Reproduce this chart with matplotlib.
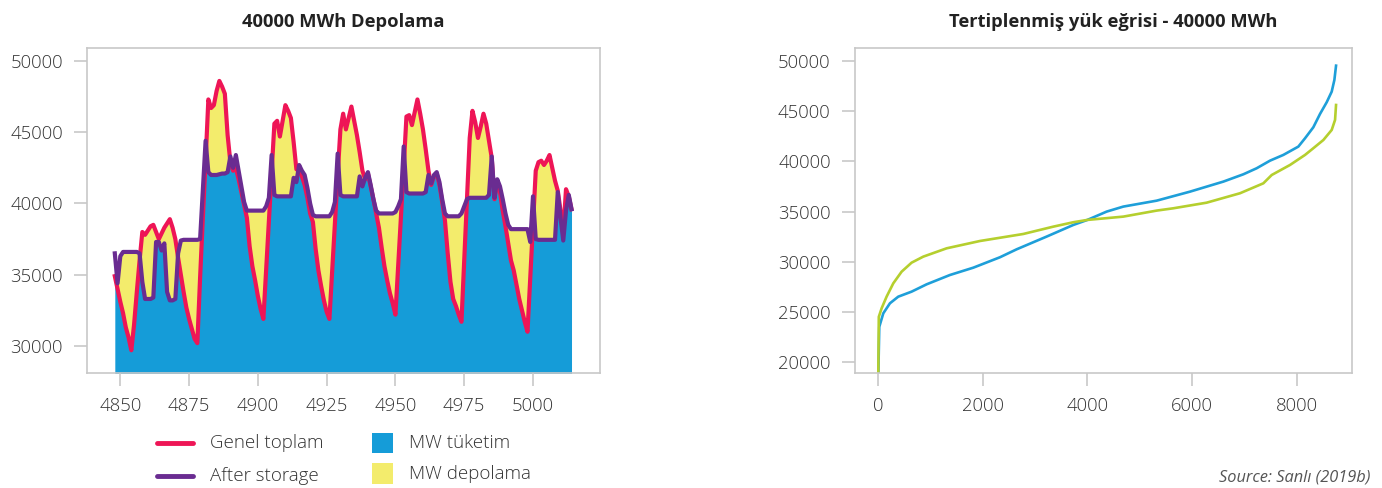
import numpy as np
import matplotlib.pyplot as plt
from matplotlib.lines import Line2D
from matplotlib.patches import Rectangle

plt.rcParams['font.family'] = ['Open Sans', 'DejaVu Sans']

# --- left chart: hourly load, before / after storage ---
hours = np.arange(4848, 5015)

genel_toplam = [
    34900, 34000, 33100, 32300, 31300, 30600, 29700, 31500, 33800, 36000,
    38000, 37800, 38100, 38400, 38500, 38000, 37500, 37900, 38300, 38600,
    38900, 38300, 37500, 36200, 35000, 33800, 32700, 31900, 31200, 30500,
    30200, 34800, 39000, 43000, 47300, 46700, 46900, 47900, 48600, 48200,
    47700, 44800, 42900, 42300, 42500, 41700, 40800, 39900, 39000, 37000,
    35600, 34600, 33500, 32600, 31900, 35300, 38700, 42200, 45600, 45800,
    44700, 45800, 46900, 46500, 46000, 44300, 42400, 42300, 41900, 41300,
    40400, 39300, 38700, 36800, 35300, 34200, 33200, 32400, 31900, 35200,
    38600, 42000, 45200, 46300, 45200, 46000, 46800, 45800, 44800, 43600,
    42300, 41700, 42100, 41200, 40300, 39300, 38300, 36900, 35600, 34600,
    33700, 33000, 32200, 35600, 39000, 42500, 46100, 46200, 45500, 46400,
    47300, 46300, 45200, 43800, 42300, 41300, 41900, 42100, 41300, 40100,
    38800, 36500, 34500, 33300, 32800, 32200, 31700, 36000, 40300, 44600,
    46500, 45700, 44600, 45400, 46300, 45600, 44400, 43200, 40300, 41600,
    40800, 39500, 38400, 37200, 36000, 35300, 34300, 33300, 32500, 31700,
    31000, 34800, 38600, 42300, 42900, 43000, 42700, 43000, 43400, 42500,
    41600, 40900, 39500, 38000, 41000, 40500, 39600,
]

after_storage = [
    36500, 34400, 36300, 36600, 36600, 36600, 36600, 36600, 36600, 36500,
    34500, 33300, 33300, 33300, 33400, 37300, 37300, 36700, 37200, 33800,
    33200, 33200, 33300, 36500, 37400, 37450, 37450, 37450, 37450, 37450,
    37450, 37500, 41000, 44400, 42200, 42000, 42000, 42000, 42050, 42100,
    42100, 42200, 43300, 42500, 43400, 42300, 41200, 40100, 39500, 39500,
    39500, 39500, 39500, 39500, 39500, 39800, 40400, 43400, 40600, 40500,
    40500, 40500, 40500, 40500, 40500, 41800, 41500, 42700, 42300, 42000,
    41100, 40000, 39200, 39100, 39100, 39100, 39100, 39100, 39100, 39400,
    40100, 43500, 40600, 40500, 40500, 40500, 40500, 40500, 40500, 41900,
    41200, 41800, 42200, 41300, 40300, 39500, 39300, 39300, 39300, 39300,
    39300, 39300, 39400, 39800, 40300, 44000, 40800, 40700, 40700, 40700,
    40700, 40700, 40700, 40800, 42000, 41400, 42000, 42200, 41500, 40300,
    39300, 39100, 39100, 39100, 39100, 39100, 39300, 39800, 40300, 40400,
    40400, 40400, 40400, 40400, 40400, 40400, 40600, 43300, 40400, 41700,
    41200, 40300, 39300, 38500, 38200, 38200, 38200, 38200, 38200, 38200,
    38200, 37300, 40500, 37500, 37450, 37450, 37450, 37450, 37450, 37450,
    37450, 40800, 39000, 37400, 39500, 40600, 39600,
]

# --- right chart: load duration curves ---
blue_hours = [0, 19, 96, 223, 382, 637, 924, 1370, 1817, 2327, 2645, 3219,
              3729, 3997, 4366, 4685, 5322, 5960, 6597, 6980, 7234, 7490,
              7744, 8031, 8159, 8318, 8446, 8573, 8669, 8720, 8752]
blue_load = [18500, 23500, 24850, 25850, 26510, 27010, 27740, 28670, 29400,
             30440, 31230, 32500, 33660, 34160, 34990, 35490, 36080, 36980,
             37980, 38710, 39310, 40070, 40640, 41470, 42300, 43400, 44730,
             45890, 46950, 48110, 49540]

green_hours = [0, 10, 64, 159, 287, 446, 637, 860, 1307, 1944, 2773, 3346,
               3729, 3997, 4685, 5322, 5641, 6278, 6916, 7362, 7522, 7872,
               8159, 8318, 8510, 8669, 8733, 8752]
green_load = [18500, 24500, 25350, 26510, 27840, 29000, 29900, 30500, 31330,
              32060, 32760, 33490, 33930, 34160, 34490, 35090, 35320, 35880,
              36820, 37810, 38640, 39640, 40640, 41310, 42130, 43130, 44130,
              45620]

W, H = 1382, 488
fig = plt.figure(figsize=(W / 100, H / 100), dpi=100)


def px_box(l, t, r, b):
    return [l / W, 1 - b / H, (r - l) / W, (b - t) / H]


ax1 = fig.add_axes(px_box(87.3, 48.3, 600.4, 373))
ax2 = fig.add_axes(px_box(855, 48, 1352, 373))

for ax in (ax1, ax2):
    for s in ax.spines.values():
        s.set_color('#c8c8c8')
        s.set_linewidth(1.2)
    ax.tick_params(direction='out', length=9.5, width=1.2, color='#c8c8c8',
                   labelsize=13.3, labelcolor='#333333', pad=8)

red = np.array(genel_toplam)
purple = np.array(after_storage)
lo = np.minimum(red, purple)
hi = np.maximum(red, purple)

ax1.fill_between(hours, 20000, lo, color='#159cd8', lw=0)
ax1.fill_between(hours, lo, hi, color='#f3ec6c', lw=0)
ax1.plot(hours, red, color='#ee1556', lw=3, solid_joinstyle='round')
ax1.plot(hours, purple, color='#6a2c91', lw=3, solid_joinstyle='round')
ax1.set_xlim(4838, 5024.5)
ax1.set_ylim(28105, 50890)
ax1.set_xticks([4850, 4875, 4900, 4925, 4950, 4975, 5000])
ax1.set_yticks([30000, 35000, 40000, 45000, 50000])

ax2.plot(blue_hours, blue_load, color='#1e9fd9', lw=1.9)
ax2.plot(green_hours, green_load, color='#b5cf2e', lw=1.9)
ax2.set_xlim(-445, 9057)
ax2.set_ylim(18900, 51300)
ax2.set_xticks([0, 2000, 4000, 6000, 8000])
ax2.set_yticks([20000, 25000, 30000, 35000, 40000, 45000, 50000])

for ax in (ax1, ax2):
    for lab in ax.get_xticklabels() + ax.get_yticklabels():
        lab.set_fontweight('light')

fig.text(343.5 / W, 1 - 22 / H, '40000 MWh Depolama', ha='center', va='center',
         fontsize=13.2, fontweight='bold', color='#222222')
fig.text(1113 / W, 1 - 22 / H, 'Tertiplenmiş yük eğrisi - 40000 MWh',
         ha='center', va='center', fontsize=13.2, fontweight='bold',
         color='#222222')

# legend, drawn by hand to get the short square patches
legend_lines = [('Genel toplam', '#ee1556', 442.7), ('After storage', '#6a2c91', 476)]
for txt, c, y in legend_lines:
    fig.add_artist(Line2D([156.7 / W, 193.3 / W], [1 - y / H, 1 - y / H],
                          color=c, lw=3.5, solid_capstyle='round'))
    fig.text(210 / W, 1 - y / H, txt, ha='left', va='center', fontsize=13.5,
             fontweight='light', color='#333333')
legend_boxes = [('MW tüketim', '#159cd8', 443), ('MW depolama', '#f3ec6c', 473.7)]
for txt, c, y in legend_boxes:
    fig.add_artist(Rectangle((372.3 / W, 1 - (y + 10.3) / H), 20.4 / W, 20.6 / H,
                             color=c, lw=0))
    fig.text(409.3 / W, 1 - y / H, txt, ha='left', va='center', fontsize=13.5,
             fontweight='light', color='#333333')

fig.text(1370 / W, 1 - 478 / H, 'Source: Sanlı (2019b)', ha='right', va='center',
         fontsize=11.8, style='italic', color='#555555')

fig.savefig('out.png', dpi=100)
